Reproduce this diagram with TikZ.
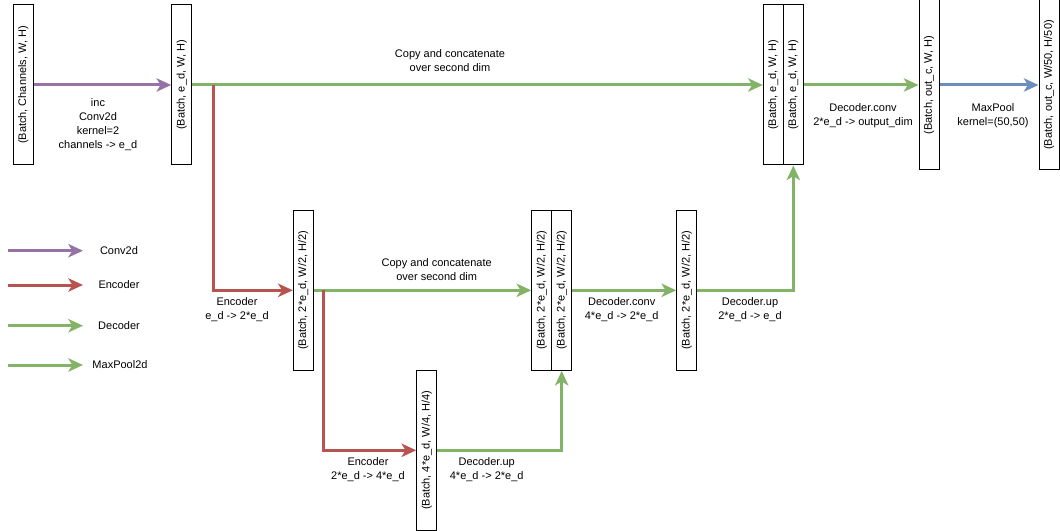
\documentclass[tikz,border=0pt]{standalone}
\usepackage{fontspec}
\setmainfont{Liberation Sans}
\usetikzlibrary{arrows.meta,positioning}
\definecolor{roxo}{HTML}{9673A6}
\definecolor{vermelho}{HTML}{B85450}
\definecolor{verde}{HTML}{82B366}
\definecolor{azul}{HTML}{6C8EBF}
\begin{document}
\begin{tikzpicture}[x=0.75pt, y=-0.75pt,
  tensor/.style={draw=black, fill=white, line width=0.75pt, inner sep=0pt,
                 minimum width=15pt, minimum height=120pt,
                 font=\fontsize{8.25}{10.5}\selectfont},
  alto/.style={tensor, minimum height=127.5pt},
  rotulo/.style={align=center, font=\fontsize{8.25}{10.5}\selectfont},
  seta/.style={-{Stealth[length=11pt, width=10pt, inset=3pt]}, line width=2.25pt},
  conv/.style={seta, roxo},
  enc/.style={seta, vermelho},
  dec/.style={seta, verde},
  pool/.style={seta, azul}
]
\useasboundingbox (0,0) rectangle (1060,531);
\node[tensor] (x0) at (23.3,85) {\rotatebox{90}{(Batch, Channels, W, H)}};
\node[tensor] (e1) at (181.7,85) {\rotatebox{90}{(Batch, e\_d, W, H)}};
\node[tensor] (e2) at (303.3,290.3) {\rotatebox{90}{(Batch, 2*e\_d, W/2, H/2)}};
\node[tensor] (e3) at (426.7,450.3) {\rotatebox{90}{(Batch, 4*e\_d, W/4, H/4)}};
\node[tensor] (c2a) at (541.7,290.3) {\rotatebox{90}{(Batch, 2*e\_d, W/2, H/2)}};
\node[tensor] (c2b) at (561.7,290.3) {\rotatebox{90}{(Batch, 2*e\_d, W/2, H/2)}};
\node[tensor] (d2) at (686.7,290.3) {\rotatebox{90}{(Batch, 2*e\_d, W/2, H/2)}};
\node[tensor] (c1a) at (773.3,85) {\rotatebox{90}{(Batch, e\_d, W, H)}};
\node[tensor] (c1b) at (793.3,85) {\rotatebox{90}{(Batch, e\_d, W, H)}};
\node[alto] (out) at (929,85) {\rotatebox{90}{(Batch, out\_c, W, H)}};
\node[alto] (pooled) at (1049,85) {\rotatebox{90}{(Batch, out\_c, W/50, H/50)}};
\coordinate (r1) at (213.3,85);
\coordinate (r2) at (323.3,290.3);
\draw[conv] (x0) -- (e1);
\draw[dec] (e1) -- (c1a);
\draw[enc] (r1) |- (e2);
\draw[dec] (e2) -- (c2a);
\draw[enc] (r2) |- (e3);
\draw[dec] (e3) -| (c2b);
\draw[dec] (c2b) -- (d2);
\draw[dec] (d2) -| (c1b);
\draw[dec] (c1b) -- (out);
\draw[pool] (out) -- (pooled);
\node[rotulo] (linc) at (98,125) {inc\\Conv2d\\kernel=2\\channels -> e\_d};
\node[rotulo] (lcopy1) at (450,60.5) {Copy and concatenate\\over second dim};
\node[rotulo] (lconv1) at (863,116) {Decoder.conv\\2*e\_d -> output\_dim};
\node[rotulo] (lpool) at (993,116) {MaxPool\\kernel=(50,50)};
\node[rotulo] (lenc1) at (237,310) {Encoder\\e\_d -> 2*e\_d};
\node[rotulo] (lcopy2) at (436.7,270) {Copy and concatenate\\over second dim};
\node[rotulo] (lconv2) at (621.7,310) {Decoder.conv\\4*e\_d -> 2*e\_d};
\node[rotulo] (lup1) at (750,310) {Decoder.up\\2*e\_d -> e\_d};
\node[rotulo] (lenc2) at (368,470) {Encoder\\2*e\_d -> 4*e\_d};
\node[rotulo] (lup2) at (486.7,470) {Decoder.up\\4*e\_d -> 2*e\_d};
\coordinate (k1a) at (8,250.7);  \coordinate (k1b) at (83,250.7);
\coordinate (k2a) at (8,285);    \coordinate (k2b) at (83,285);
\coordinate (k3a) at (8,325.7);  \coordinate (k3b) at (83,325.7);
\coordinate (k4a) at (8,365);    \coordinate (k4b) at (83,365);
\draw[conv] (k1a) -- (k1b);
\draw[enc] (k2a) -- (k2b);
\draw[dec] (k3a) -- (k3b);
\draw[dec] (k4a) -- (k4b);
\node[rotulo] (kconv) at (119,250.7) {Conv2d};
\node[rotulo] (kenc) at (119,285) {Encoder};
\node[rotulo] (kdec) at (119,325.7) {Decoder};
\node[rotulo] (kpool) at (120,365) {MaxPool2d};
\end{tikzpicture}
\end{document}
